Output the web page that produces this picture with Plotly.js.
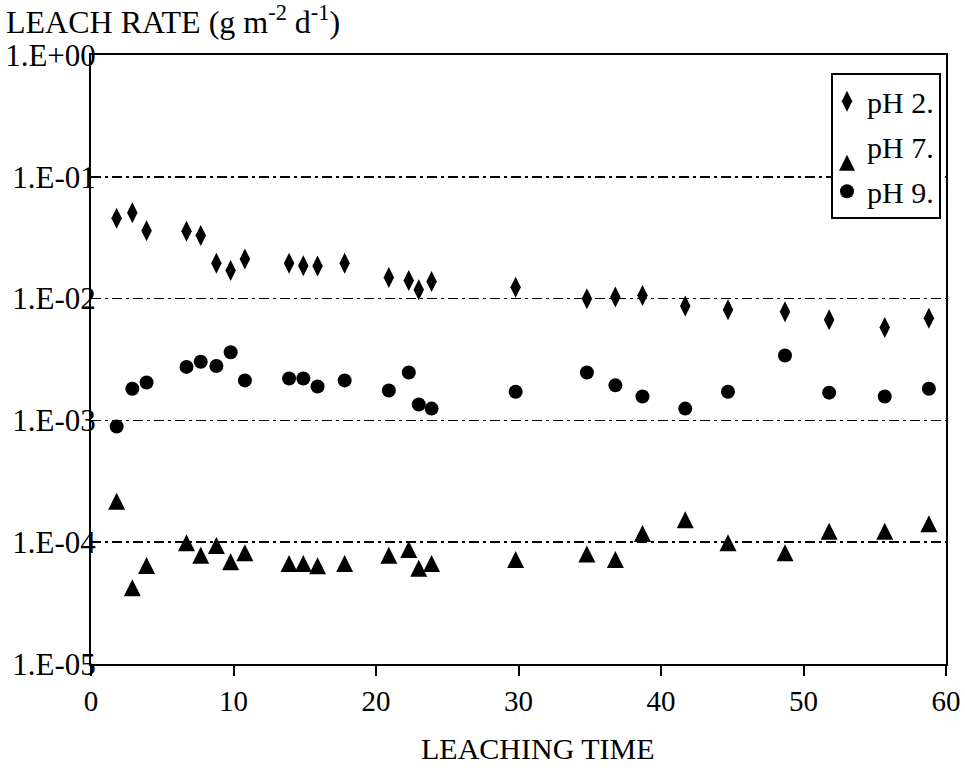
<!DOCTYPE html>
<html>
<head>
<meta charset="utf-8">
<script src="https://cdn.plot.ly/plotly-3.0.1.min.js"></script>
<style>html,body{margin:0;padding:0;background:#fff;}#chart{width:965px;height:775px;}</style>
</head>
<body>
<div id="chart"></div>
<script>
// Leaching time (x) shared by all series
var leachTime = [1.8, 2.9, 3.9, 6.7, 7.7, 8.8, 9.8, 10.8, 13.9, 14.9, 15.9, 17.8, 20.9, 22.3, 23.0, 23.9, 29.8, 34.8, 36.8, 38.7, 41.7, 44.7, 48.7, 51.8, 55.7, 58.8];
// Leach rate (g m^-2 d^-1)
var ratePH2 = [0.0456, 0.0507, 0.036, 0.0357, 0.033, 0.0195, 0.017, 0.0211, 0.0195, 0.0186, 0.0185, 0.0195, 0.0149, 0.0141, 0.0118, 0.0138, 0.0124, 0.00995, 0.0103, 0.0106, 0.0087, 0.0081, 0.0078, 0.0067, 0.00578, 0.0069];
var ratePH7 = [2.17e-4, 4.23e-5, 6.44e-5, 9.9e-5, 7.8e-5, 9.4e-5, 6.9e-5, 8.2e-5, 6.7e-5, 6.7e-5, 6.4e-5, 6.7e-5, 7.8e-5, 8.7e-5, 6.1e-5, 6.7e-5, 7.2e-5, 8.0e-5, 7.2e-5, 1.18e-4, 1.53e-4, 9.9e-5, 8.2e-5, 1.23e-4, 1.23e-4, 1.42e-4];
var ratePH9 = [0.00089, 0.00182, 0.00205, 0.00275, 0.00303, 0.0028, 0.00363, 0.00213, 0.00221, 0.00221, 0.0019, 0.00213, 0.00176, 0.00247, 0.00135, 0.00125, 0.00172, 0.00247, 0.00194, 0.00157, 0.00125, 0.00172, 0.00341, 0.00169, 0.00157, 0.00182];
var seriesNames = ["pH 2.", "pH 7.", "pH 9."];
var yTickVals = [1, 0.1, 0.01, 0.001, 0.0001, 0.00001];
var yTickText = ["1.E+00", "1.E-01", "1.E-02", "1.E-03", "1.E-04", "1.E-05"];
var xTickVals = [0, 10, 20, 30, 40, 50, 60];

var FONT = "Liberation Serif, Times New Roman, serif";

var traces = [
  {x: leachTime, y: ratePH2, name: seriesNames[0], type: "scatter", mode: "markers", legendgroup: "a",
   marker: {symbol: "diamond-tall", size: 15, color: "#000"}},
  {x: leachTime, y: ratePH7, name: seriesNames[1], type: "scatter", mode: "markers", legendgroup: "b",
   marker: {symbol: "arrow-down", angle: 180, standoff: 8.5, size: 17, color: "#000"}},
  {x: leachTime, y: ratePH9, name: seriesNames[2], type: "scatter", mode: "markers", legendgroup: "c",
   marker: {symbol: "circle", size: 14, color: "#000"}}
];

var layout = {
  width: 965, height: 775,
  margin: {l: 91, r: 19, t: 55, b: 111},
  paper_bgcolor: "#fff", plot_bgcolor: "#fff",
  font: {family: FONT, size: 30, color: "#000"},
  showlegend: true,
  legend: {x: 0.8655, y: 0.97, xanchor: "left", yanchor: "top", bgcolor: "#fff",
           bordercolor: "#000", borderwidth: 2, font: {family: FONT, size: 30, color: "#000"},
           tracegroupgap: 3, itemwidth: 30, indentation: -6},
  xaxis: {range: [0, 60], tickvals: xTickVals, ticks: "outside", ticklen: 10, tickwidth: 2, tickcolor: "#000",
          showline: true, linewidth: 2, linecolor: "#000", mirror: true, showgrid: false, zeroline: false,
          tickfont: {family: FONT, size: 29, color: "#000"}},
  yaxis: {type: "log", range: [-5, 0], tickvals: yTickVals, ticktext: yTickText, ticks: "",
          showline: true, linewidth: 2, linecolor: "#000", mirror: true,
          showgrid: true, gridcolor: "#000", gridwidth: 1.5, griddash: "10px,4px,3px,4px",
          ticklabelstandoff: -13, zeroline: false,
          tickfont: {family: FONT, size: 31, color: "#000"}},
  annotations: [
    {text: "LEACH RATE (g m<sup>-2</sup> d<sup>-1</sup>)", xref: "paper", yref: "paper",
     x: -0.102, y: 1.057, xanchor: "left", yanchor: "middle", showarrow: false,
     font: {family: FONT, size: 32, color: "#000"}},
    {text: "LEACHING TIME", xref: "paper", yref: "paper", x: 0.523, y: -0.138,
     xanchor: "center", yanchor: "middle", showarrow: false,
     font: {family: FONT, size: 30, color: "#000"}}
  ]
};

Plotly.newPlot("chart", traces, layout, {staticPlot: true, displayModeBar: false});
</script>
</body>
</html>
